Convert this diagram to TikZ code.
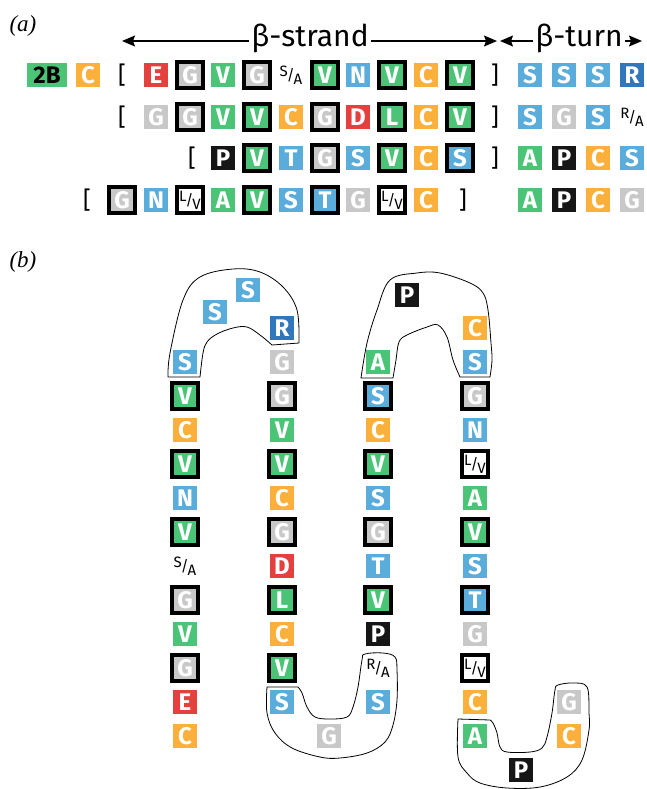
\documentclass[tikz,border=0pt]{standalone}
\usepackage{fontspec}
\setsansfont{Fira Sans}
\newfontfamily\labfont{Liberation Serif}
\usetikzlibrary{arrows.meta}
\definecolor{resgreen}{RGB}{76,196,119}
\definecolor{resorange}{RGB}{251,176,59}
\definecolor{resblue}{RGB}{90,172,219}
\definecolor{resdark}{RGB}{50,118,188}
\definecolor{resred}{RGB}{228,64,62}
\definecolor{resgray}{RGB}{200,200,200}
\definecolor{resblack}{RGB}{22,22,22}
\newcommand{\resfont}{\sffamily\bfseries\fontsize{24}{24}\selectfont}
\newcommand{\altfont}{\sffamily\fontsize{15}{15}\selectfont}
\newcommand{\altres}[2]{\raisebox{4pt}{#1}\kern-1pt/\kern-1pt\raisebox{-4pt}{#2}}

\begin{document}
\begin{tikzpicture}[x=1pt,y=-1pt,
        res/.style={rectangle,minimum size=23.5pt,inner sep=0pt,text=white,font=\resfont},
        grn/.style={res,fill=resgreen},
        org/.style={res,fill=resorange},
        blu/.style={res,fill=resblue},
        dbl/.style={res,fill=resdark},
        rd/.style={res,fill=resred},
        gry/.style={res,fill=resgray},
        blk/.style={res,fill=resblack},
        frm/.style={draw=black,line width=3.2pt,minimum size=26pt},
        lv/.style={res,frm,fill=white,text=black,font=\sffamily\fontsize{15}{15}\selectfont},
        alt/.style={inner sep=0pt,font=\altfont},
        brk/.style={inner sep=0pt,font=\sffamily\fontsize{24}{24}\selectfont},
        head/.style={inner sep=2pt,anchor=base,font=\sffamily\fontsize{30}{30}\selectfont},
        panel/.style={font=\labfont\itshape\fontsize{23}{23}\selectfont},
        arrow/.style={-{Stealth[length=13pt,width=11pt,inset=2pt]},line width=1.2pt},
        blob/.style={draw=black,line width=0.8pt}]
  \useasboundingbox (0,0) rectangle (646,789);

  % (a) aligned sequences
  \node[panel] (pa) at (23,26) {(a)};
  \coordinate (sL) at (122,41);
  \coordinate (sR) at (497,41);
  \coordinate (tL) at (500,41);
  \coordinate (tR) at (642,41);
  \node[head] (strand) at (310,47) {β-strand};
  \node[head] (turn) at (579,47) {β-turn};
  \draw[arrow] (strand.west |- sL) -- (sL);
  \draw[arrow] (strand.east |- sR) -- (sR);
  \draw[arrow] (turn.west |- tL) -- (tL);
  \draw[arrow] (turn.east |- tR) -- (tR);

  % row 1
  \node[grn,minimum width=40pt,text=black] (a1bb) at (47,75) {2B};
  \node[org] (a1c0) at (88,75) {C};
  \node[brk] (a1l) at (122,75) {[};
  \node[rd] (a1e) at (156,75) {E};
  \node[gry,frm] (a1g1) at (190,75) {G};
  \node[grn] (a1v1) at (223,75) {V};
  \node[gry,frm] (a1g2) at (257,75) {G};
  \node[alt] (a1sa) at (291,75) {\altres{S}{A}};
  \node[grn,frm] (a1v2) at (325,75) {V};
  \node[blu] (a1n) at (358,75) {N};
  \node[grn,frm] (a1v3) at (392,75) {V};
  \node[org] (a1c1) at (426,75) {C};
  \node[grn,frm] (a1v4) at (460,75) {V};
  \node[brk] (a1r) at (495,75) {]};
  \node[blu] (a1t1) at (530,75) {S};
  \node[blu] (a1t2) at (564,75) {S};
  \node[blu] (a1t3) at (598,75) {S};
  \node[dbl] (a1t4) at (632,75) {R};

  % row 2
  \node[brk] (a2l) at (122,117) {[};
  \node[gry] (a2g1) at (156,117) {G};
  \node[gry,frm] (a2g2) at (190,117) {G};
  \node[grn] (a2v1) at (223,117) {V};
  \node[grn,frm] (a2v2) at (257,117) {V};
  \node[org] (a2c1) at (291,117) {C};
  \node[gry,frm] (a2g3) at (325,117) {G};
  \node[rd] (a2d) at (358,117) {D};
  \node[grn,frm] (a2l1) at (392,117) {L};
  \node[org] (a2c2) at (426,117) {C};
  \node[grn,frm] (a2v3) at (460,117) {V};
  \node[brk] (a2r) at (495,117) {]};
  \node[blu] (a2t1) at (530,117) {S};
  \node[gry] (a2t2) at (564,117) {G};
  \node[blu] (a2t3) at (598,117) {S};
  \node[alt] (a2t4) at (632,117) {\altres{R}{A}};

  % row 3
  \node[brk] (a3l) at (192,158) {[};
  \node[blk] (a3p) at (223,158) {P};
  \node[grn,frm] (a3v1) at (257,158) {V};
  \node[blu] (a3t) at (291,158) {T};
  \node[gry,frm] (a3g) at (325,158) {G};
  \node[blu] (a3s1) at (358,158) {S};
  \node[grn,frm] (a3v2) at (392,158) {V};
  \node[org] (a3c) at (426,158) {C};
  \node[blu,frm] (a3s2) at (460,158) {S};
  \node[brk] (a3r) at (495,158) {]};
  \node[grn] (a3t1) at (530,158) {A};
  \node[blk] (a3t2) at (564,158) {P};
  \node[org] (a3t3) at (598,158) {C};
  \node[blu] (a3t4) at (632,158) {S};

  % row 4
  \node[brk] (a4l) at (87,200) {[};
  \node[gry,frm] (a4g1) at (122,200) {G};
  \node[blu] (a4n) at (156,200) {N};
  \node[lv] (a4lv1) at (190,200) {\altres{L}{V}};
  \node[grn] (a4a) at (223,200) {A};
  \node[grn,frm] (a4v) at (257,200) {V};
  \node[blu] (a4s) at (291,200) {S};
  \node[blu,frm] (a4t) at (325,200) {T};
  \node[gry] (a4g2) at (358,200) {G};
  \node[lv] (a4lv2) at (392,200) {\altres{L}{V}};
  \node[org] (a4c) at (426,200) {C};
  \node[brk] (a4r) at (463,200) {]};
  \node[grn] (a4t1) at (530,200) {A};
  \node[blk] (a4t2) at (564,200) {P};
  \node[org] (a4t3) at (598,200) {C};
  \node[gry] (a4t4) at (632,200) {G};

  % (b) the folded chain
  \node[panel] (pb) at (23,262) {(b)};

  % turn outlines
  \draw[blob] plot[smooth,tension=0.6] coordinates {(168,377) (170,353) (183,300) (200,277) (233,269) (260,272) (283,287) (297,310) (299,343)}
    -- plot[smooth,tension=0.6] coordinates {(272,345) (260,335) (247,327) (233,328) (217,334) (207,342) (203,353) (200,377)} -- cycle;
  \draw[blob] plot[smooth,tension=0.6] coordinates {(361,378) (367,343) (377,310) (390,280) (417,273) (440,273) (470,283) (483,293) (488,310) (491,343) (492,360) (490,377)}
    -- plot[smooth,tension=0.6] coordinates {(460,377) (453,360) (447,337) (438,325) (427,327) (407,335) (399,342) (396,360) (393,378)} -- cycle;
  \draw[blob] plot[smooth,tension=0.6] coordinates {(267,687) (267,713) (275,733) (292,748) (320,757) (340,758) (367,753) (385,742) (393,725) (397,700) (397,670) (395,657) (383,653) (365,654) (362,660) (358,687) (353,707) (347,717) (330,719) (315,717) (307,707) (302,693) (298,687)} -- cycle;
  \draw[blob] plot[smooth,tension=0.6] coordinates {(458,719) (458,757) (467,773) (480,783) (507,788) (540,787) (567,777) (582,760) (589,730) (589,713) (587,687) (573,683) (558,685) (555,690) (552,713) (547,737) (542,748) (530,752) (507,752) (500,747) (497,733) (493,723) (490,720)} -- cycle;

  % strand 1
  \node[blu] (b1s) at (185,362) {S};
  \node[grn,frm] (b1v1) at (185,396) {V};
  \node[org] (b1c1) at (185,430) {C};
  \node[grn,frm] (b1v2) at (185,464) {V};
  \node[blu] (b1n) at (185,498) {N};
  \node[grn,frm] (b1v3) at (185,532) {V};
  \node[alt] (b1sa) at (185,566) {\altres{S}{A}};
  \node[gry,frm] (b1g1) at (185,600) {G};
  \node[grn] (b1v4) at (185,634) {V};
  \node[gry,frm] (b1g2) at (185,668) {G};
  \node[rd] (b1e) at (185,702) {E};
  \node[org] (b1c2) at (185,736) {C};
  % turn 1
  \node[blu] (u1s1) at (215,312) {S};
  \node[blu] (u1s2) at (248,290) {S};
  % strand 2
  \node[dbl] (b2r) at (282,328) {R};
  \node[gry] (b2g1) at (282,362) {G};
  \node[gry,frm] (b2g2) at (282,396) {G};
  \node[grn] (b2v1) at (282,430) {V};
  \node[grn,frm] (b2v2) at (282,464) {V};
  \node[org] (b2c1) at (282,498) {C};
  \node[gry,frm] (b2g3) at (282,532) {G};
  \node[rd] (b2d) at (282,566) {D};
  \node[grn,frm] (b2l) at (282,600) {L};
  \node[org] (b2c2) at (282,634) {C};
  \node[grn,frm] (b2v3) at (282,668) {V};
  \node[blu] (b2s) at (282,702) {S};
  % turn 2
  \node[gry] (u2g) at (329,736) {G};
  % strand 3
  \node[grn] (b3a) at (378,362) {A};
  \node[blu,frm] (b3s1) at (378,396) {S};
  \node[org] (b3c) at (378,430) {C};
  \node[grn,frm] (b3v1) at (378,464) {V};
  \node[blu] (b3s2) at (378,498) {S};
  \node[gry,frm] (b3g) at (378,532) {G};
  \node[blu] (b3t) at (378,566) {T};
  \node[grn,frm] (b3v2) at (378,600) {V};
  \node[blk] (b3p) at (378,634) {P};
  \node[alt] (b3ra) at (378,668) {\altres{R}{A}};
  \node[blu] (b3s3) at (378,702) {S};
  % turn 3
  \node[blk] (u3p) at (407,295) {P};
  % strand 4
  \node[org] (b4c1) at (475,328) {C};
  \node[blu] (b4s1) at (475,362) {S};
  \node[gry,frm] (b4g1) at (475,396) {G};
  \node[blu] (b4n) at (475,430) {N};
  \node[lv] (b4lv1) at (475,464) {\altres{L}{V}};
  \node[grn] (b4a1) at (475,498) {A};
  \node[grn,frm] (b4v) at (475,532) {V};
  \node[blu] (b4s2) at (475,566) {S};
  \node[blu,frm] (b4t) at (475,600) {T};
  \node[gry] (b4g2) at (475,634) {G};
  \node[lv] (b4lv2) at (475,668) {\altres{L}{V}};
  \node[org] (b4c2) at (475,702) {C};
  \node[grn] (b4a2) at (475,736) {A};
  % turn 4
  \node[blk] (u4p) at (521,770) {P};
  \node[gry] (u4g) at (569,702) {G};
  \node[org] (u4c) at (569,736) {C};
\end{tikzpicture}
\end{document}
